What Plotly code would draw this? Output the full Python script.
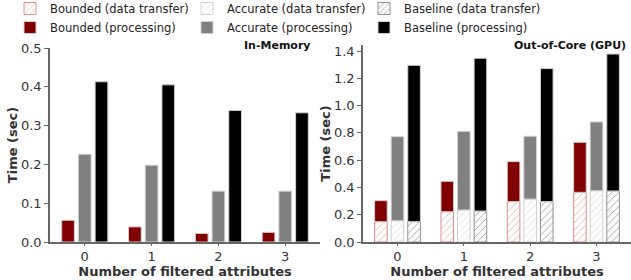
import plotly.graph_objects as go

cats = [0, 1, 2, 3]
tick_text = ["0", "1", "2", "3"]

# In-Memory (processing only)
mem_bounded = [0.056, 0.039, 0.022, 0.025]
mem_accurate = [0.226, 0.198, 0.131, 0.131]
mem_baseline = [0.413, 0.405, 0.339, 0.333]

# Out-of-Core (GPU): data transfer and totals
gpu_bounded_dt = [0.149, 0.222, 0.296, 0.364]
gpu_accurate_dt = [0.156, 0.235, 0.315, 0.376]
gpu_baseline_dt = [0.149, 0.227, 0.296, 0.374]
gpu_bounded_total = [0.303, 0.445, 0.589, 0.731]
gpu_accurate_total = [0.772, 0.811, 0.775, 0.880]
gpu_baseline_total = [1.295, 1.347, 1.271, 1.378]

gpu_bounded_p = [t - d for t, d in zip(gpu_bounded_total, gpu_bounded_dt)]
gpu_accurate_p = [t - d for t, d in zip(gpu_accurate_total, gpu_accurate_dt)]
gpu_baseline_p = [t - d for t, d in zip(gpu_baseline_total, gpu_baseline_dt)]

W = 631
H = 280


def px(x):
    return x / W


def py(y):
    return 1 - y / H


FONT = "DejaVu Sans"
BW = 0.19
OFFS = [-0.345, -0.095, 0.155]

series = [
    ("Bounded", "#800000", "#e4a3a3", "#d89090"),
    ("Accurate", "#808080", "#d8d8d8", "#d0d0d0"),
    ("Baseline", "#000000", "#8a8a8a", "#909090"),
]
gpu_dt = [gpu_bounded_dt, gpu_accurate_dt, gpu_baseline_dt]
gpu_p = [gpu_bounded_p, gpu_accurate_p, gpu_baseline_p]
mem_p = [mem_bounded, mem_accurate, mem_baseline]

fig = go.Figure()

for (name, solid, hatch, edge), dt, off in zip(series, gpu_dt, OFFS):
    fig.add_trace(go.Bar(
        x=cats, y=dt, width=BW, offset=off, xaxis="x2", yaxis="y2",
        name=f"{name} (data transfer)",
        marker=dict(color="white", line=dict(color=edge, width=1),
                    pattern=dict(shape="/", fgcolor=hatch, bgcolor="white",
                                 size=5, solidity=0.15)),
    ))

for (name, solid, hatch, edge), dt, p, off in zip(series, gpu_dt, gpu_p, OFFS):
    fig.add_trace(go.Bar(
        x=cats, y=p, base=dt, width=BW, offset=off, xaxis="x2", yaxis="y2",
        name=f"{name} (processing)",
        marker=dict(color=solid, line=dict(color="#d0d0d0", width=1)),
    ))

for (name, solid, hatch, edge), p, off in zip(series, mem_p, OFFS):
    fig.add_trace(go.Bar(
        x=cats, y=p, width=BW, offset=off, xaxis="x", yaxis="y",
        name=f"{name} (processing)", showlegend=False,
        marker=dict(color=solid, line=dict(color="#d0d0d0", width=1)),
    ))

axis_common = dict(
    showline=True, linecolor="#666666", linewidth=1.5, showgrid=False,
    zeroline=False, ticks="outside", ticklen=4, tickcolor="#666666",
    tickfont=dict(family=FONT, size=13, color="#333333"), automargin=False,
)

x_common = dict(axis_common, tickmode="array", tickvals=cats, ticktext=tick_text,
                range=[-0.52, 3.52], ticklen=2,
                title=dict(text="<b>Number of filtered attributes</b>",
                           font=dict(family=FONT, size=13, color="#333333"),
                           standoff=0))
y_title = dict(text="<b>Time (sec)</b>", font=dict(family=FONT, size=13, color="#333333"),
               standoff=0)

fig.update_layout(
    template="none",
    width=W, height=H,
    margin=dict(l=0, r=0, t=0, b=0, autoexpand=False),
    paper_bgcolor="white", plot_bgcolor="white",
    barmode="overlay",
    font=dict(family=FONT, size=13, color="#222222"),
    xaxis=dict(x_common, domain=[px(50), px(320)], anchor="y"),
    yaxis=dict(axis_common, domain=[py(242), py(48)], anchor="x",
               range=[0, 0.5], tickvals=[0, 0.1, 0.2, 0.3, 0.4, 0.5],
               ticktext=["0.0", "0.1", "0.2", "0.3", "0.4", "0.5"], title=y_title),
    xaxis2=dict(x_common, domain=[px(363), 1.0], anchor="y2"),
    yaxis2=dict(axis_common, domain=[py(242), py(45)], anchor="x2",
                range=[0, 1.444], tickvals=[0, 0.2, 0.4, 0.6, 0.8, 1.0, 1.2, 1.4],
                ticktext=["0.0", "0.2", "0.4", "0.6", "0.8", "1.0", "1.2", "1.4"],
                title=y_title),
    legend=dict(orientation="h", xanchor="left", yanchor="top", x=px(10), y=py(-6),
                entrywidth=132, entrywidthmode="pixels",
                bgcolor="rgba(0,0,0,0)", tracegroupgap=0, itemclick=False,
                borderwidth=0,
                font=dict(family=FONT, size=11.5, color="#222222")),
    annotations=[
        dict(text="<b>In-Memory</b>", xref="paper", yref="paper", x=px(313), y=py(46),
             xanchor="right", yanchor="middle", showarrow=False,
             font=dict(family=FONT, size=11, color="#111111")),
        dict(text="<b>Out-of-Core (GPU)</b>", xref="paper", yref="paper", x=px(628),
             y=py(46), xanchor="right", yanchor="middle", showarrow=False,
             font=dict(family=FONT, size=11, color="#111111")),
    ],
)

fig.write_html("out.html", config={"displayModeBar": False},
               post_script="document.body.style.margin='0';document.body.style.overflow='hidden';")
